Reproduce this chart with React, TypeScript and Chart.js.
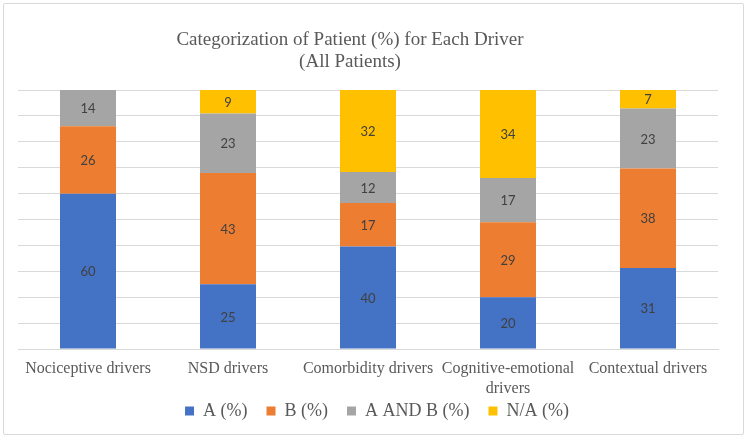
import React, { useEffect, useRef } from "react";
import { Chart, registerables } from "chart.js";

Chart.register(...registerables);

const categories: (string | string[])[] = [
  "Nociceptive drivers",
  "NSD drivers",
  "Comorbidity drivers",
  ["Cognitive-emotional", "drivers"],
  "Contextual drivers",
];
const seriesNames = ["A (%)", "B (%)", "A AND B (%)", "N/A (%)"];
const seriesA = [60, 25, 40, 20, 31];
const seriesB = [26, 43, 17, 29, 38];
const seriesAB = [14, 23, 12, 17, 23];
const seriesNA = [0, 9, 32, 34, 7];
const colors = ["#4472C4", "#ED7D31", "#A5A5A5", "#FFC000"];
const titleLines = ["Categorization of Patient (%) for Each Driver", "(All Patients)"];

const rawSeries = [seriesA, seriesB, seriesAB, seriesNA];
const totals = categories.map((_, j) => rawSeries.reduce((s, arr) => s + arr[j], 0));
const pctSeries = rawSeries.map((arr) => arr.map((v, j) => (v / totals[j]) * 100));

const SERIF = "'Liberation Serif', 'Times New Roman', serif";

const segLabels = {
  id: "segLabels",
  afterDatasetsDraw(chart: any) {
    const ctx = chart.ctx;
    ctx.save();
    ctx.font = "13px Lato, 'Open Sans', sans-serif";
    ctx.fillStyle = "#404040";
    ctx.textAlign = "center";
    ctx.textBaseline = "middle";
    chart.data.datasets.forEach((_: any, i: number) => {
      const meta = chart.getDatasetMeta(i);
      meta.data.forEach((bar: any, j: number) => {
        const raw = rawSeries[i][j];
        if (!raw) return;
        const p = bar.getProps(["x", "y", "base"], true);
        ctx.fillText(String(raw), p.x, (p.y + p.base) / 2 + 1);
      });
    });
    ctx.restore();
  },
};

// shift title and legend horizontally to match the reference's centring
const boxOffsets = {
  id: "boxOffsets",
  afterLayout(chart: any) {
    const t = chart.titleBlock;
    if (t) {
      t.left -= 18;
      t.right -= 18;
    }
    const l = chart.legend;
    if (l) {
      l.left += 9;
      l.right += 9;
    }
  },
};

export default function App() {
  const ref = useRef<HTMLCanvasElement | null>(null);
  useEffect(() => {
    document.body.style.margin = "0";
    if (!ref.current) return;
    const chart = new Chart(ref.current, {
      type: "bar",
      data: {
        labels: categories as any,
        datasets: seriesNames.map((name, i) => ({
          label: name,
          data: pctSeries[i],
          backgroundColor: colors[i],
          borderWidth: 0,
          categoryPercentage: 1,
          barPercentage: 0.4,
        })),
      },
      options: {
        responsive: false,
        animation: false,
        layout: { padding: { left: 18, right: 32, top: 0, bottom: 10 } },
        plugins: {
          title: {
            display: true,
            text: titleLines,
            color: "#595959",
            font: { family: SERIF, size: 19, weight: "normal", lineHeight: 1.16 },
            padding: { top: 29, bottom: 17 },
          },
          legend: {
            position: "bottom",
            labels: {
              color: "#595959",
              font: { family: SERIF, size: 18 },
              boxWidth: 9,
              boxHeight: 9,
              padding: 19,
            },
          },
          tooltip: { enabled: false },
        },
        scales: {
          x: {
            stacked: true,
            grid: { display: false, drawTicks: false },
            border: { display: true, color: "#D9D9D9" },
            ticks: {
              color: "#595959",
              font: { family: SERIF, size: 16, lineHeight: 1.25 },
              autoSkip: false,
              maxRotation: 0,
              padding: 10,
            },
            afterFit: (scale: any) => {
              scale.height = 34;
              scale._computeLabelArea = () => undefined;
            },
          },
          y: {
            stacked: true,
            min: 0,
            max: 100,
            ticks: { display: false, stepSize: 10 },
            grid: { color: "#D9D9D9", drawTicks: false },
            border: { display: false },
          },
        },
      },
      plugins: [segLabels, boxOffsets],
    });
    return () => chart.destroy();
  }, []);
  return (
    <div style={{ position: "relative", width: 750, height: 440 }}>
      <div
        style={{
          position: "absolute",
          left: 3,
          top: 3,
          width: 741,
          height: 432,
          border: "1px solid #D9D9D9",
          borderRadius: 2,
          boxSizing: "border-box",
        }}
      />
      <canvas ref={ref} width={750} height={440} style={{ position: "absolute", left: 0, top: 0, width: 750, height: 440 }} />
    </div>
  );
}
